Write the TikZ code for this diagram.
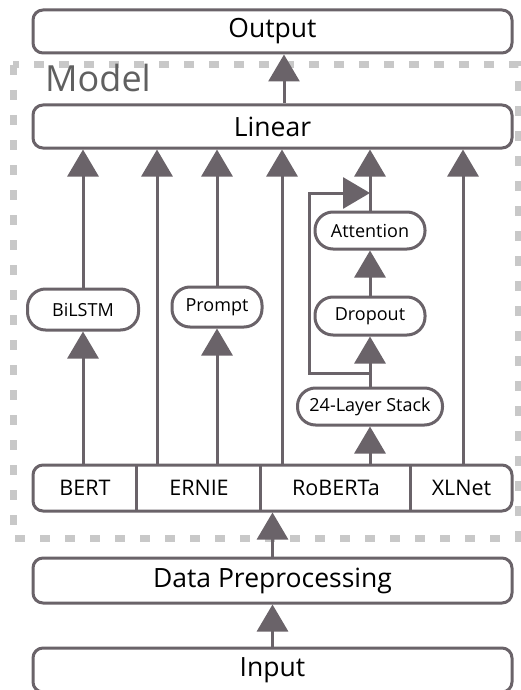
\documentclass[tikz,border=0pt]{standalone}
\usepackage{fontspec}
\setmainfont{Open Sans}
\usetikzlibrary{positioning, arrows.meta, calc}

\definecolor{linec}{HTML}{6A6369}
\definecolor{dashc}{HTML}{C8C8C8}
\definecolor{modelc}{HTML}{606060}

\begin{document}
\begin{tikzpicture}[
    x=1pt, y=-1pt,
    bigbox/.style={draw=linec, line width=3pt, rounded corners=10pt,
        minimum width=479pt, minimum height=43pt, inner sep=0pt,
        font=\fontsize{26.5}{30}\selectfont},
    pill/.style={draw=linec, line width=3pt, rounded corners=18pt,
        minimum height=37pt, inner sep=0pt, font=\fontsize{18}{21}\selectfont},
    cell/.style={minimum height=46pt, inner sep=0pt, font=\fontsize{21.5}{25}\selectfont},
    arr/.style={draw=linec, line width=3pt, -{Triangle[length=27pt, width=31pt]}},
    lnk/.style={draw=linec, line width=3pt}
]
    \useasboundingbox (0,0) rectangle (521,690);

    % dashed model frame
    \draw[dashc, line width=7pt, dash pattern=on 10pt off 15pt] (13,65) rectangle (518,538);
    \node[anchor=north west, inner sep=0pt, text=modelc, font=\fontsize{36}{40}\selectfont] (model) at (45,64) {Model};

    % Place the nodes
    \node[bigbox] (output) at (272.5,31.5) {Output};
    \node[bigbox] (linear) at (272.5,126.5) {Linear};
    \node[bigbox, minimum height=46pt] (models) at (272.5,488) {};
    \node[cell, minimum width=104pt] (bert) at (85,488) {BERT};
    \node[cell, minimum width=124pt] (ernie) at (199,488) {ERNIE};
    \node[cell, minimum width=150pt] (roberta) at (336,488) {RoBERTa};
    \node[cell, minimum width=101pt] (xlnet) at (461.5,488) {XLNet};
    \node[bigbox, minimum height=45pt] (data) at (272.5,580.5) {Data Preprocessing};
    \node[bigbox, minimum height=44pt] (input) at (272.5,670) {Input};

    \node[pill, minimum width=111pt, minimum height=41pt] (bilstm) at (83,309.5) {BiLSTM};
    \node[pill, minimum width=90pt, minimum height=40pt] (prompt) at (217,307) {Prompt};
    \node[pill, minimum width=145pt] (stack) at (370,406.5) {24-Layer Stack};
    \node[pill, minimum width=110pt, minimum height=38pt] (dropout) at (370,316) {Dropout};
    \node[pill, minimum width=110pt] (attention) at (370,230.5) {Attention};

    \coordinate (split) at (370,373);
    \coordinate (loopin) at (370,193);

    % dividers in the model row
    \draw[lnk] (ernie.north west) -- (ernie.south west);
    \draw[lnk] (roberta.north west) -- (roberta.south west);
    \draw[lnk] (xlnet.north west) -- (xlnet.south west);

    % Draw the edges
    \draw[arr] (input) -- (data);
    \draw[arr] (data) -- (models);
    \draw[arr] ([xshift=11.5pt]linear.north) -- ([xshift=11.5pt]output.south);

    \draw[arr] (bert.north -| bilstm.south) -- (bilstm);
    \draw[arr] (bilstm) -- (bilstm |- linear.south);
    \draw[arr] ([xshift=-42pt]ernie.north) -- ([xshift=-42pt]ernie.north |- linear.south);
    \draw[arr] (ernie.north -| prompt.south) -- (prompt);
    \draw[arr] (prompt) -- (prompt |- linear.south);
    \draw[arr] ([xshift=-54pt]roberta.north) -- ([xshift=-54pt]roberta.north |- linear.south);
    \draw[arr] (roberta.north -| stack.south) -- (stack);
    \draw[arr] (stack) -- (dropout);
    \draw[arr] (dropout) -- (attention);
    \draw[arr] (attention) -- (attention |- linear.south);
    \draw[arr] (split) -| (309,193) -- (loopin);
    \draw[arr] (xlnet.north -| 463,0) -- (463,0 |- linear.south);
\end{tikzpicture}
\end{document}
